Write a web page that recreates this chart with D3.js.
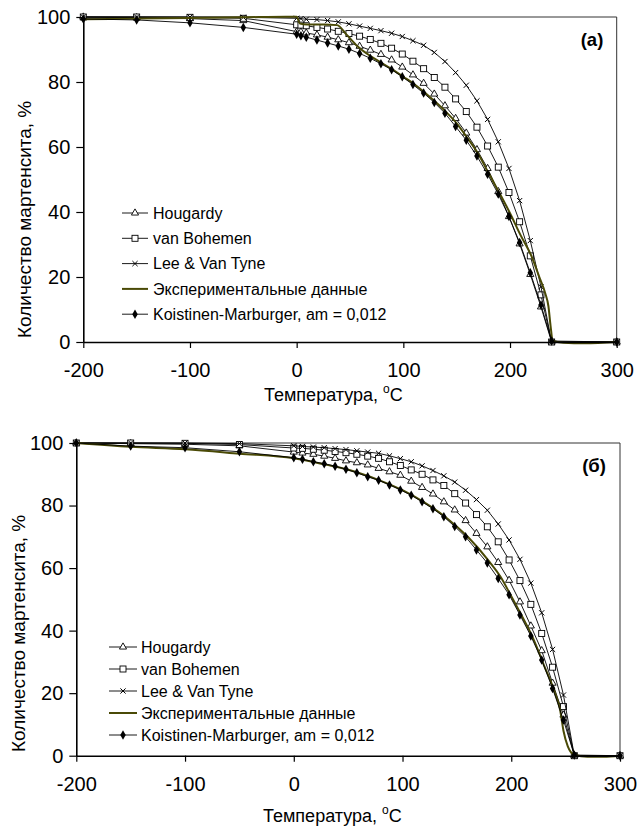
<!DOCTYPE html>
<html>
<head>
<meta charset="utf-8">
<script src="https://cdn.jsdelivr.net/npm/d3@7"></script>
<style>
body { margin: 0; background: #fff; }
text { font-family: "Liberation Sans", Arial, sans-serif; fill: #000; }
</style>
</head>
<body>
<svg id="chart" width="640" height="827"></svg>
<script>
// ---- data ----
var xTicks = [-200, -100, 0, 100, 200, 300];
var yTicks = [0, 20, 40, 60, 80, 100];
var seriesNames = ["Hougardy", "van Bohemen", "Lee & Van Tyne", "Экспериментальные данные", "Koistinen-Marburger, am = 0,012"];

// panel (a)
var tempA = [-200, -150, -100, -50, 0, 4, 9, 19, 29, 39, 49, 59, 69, 79, 89, 99, 109, 119, 129, 139, 149, 159, 169, 179, 189, 199, 209, 219, 229, 239, 300];
var hougardyA = [100, 99.8, 99.5, 98.9, 95.5, 95.4, 95.1, 94.5, 93.8, 93.0, 92.1, 91.0, 89.8, 88.5, 86.8, 84.6, 82.2, 79.6, 76.3, 72.7, 68.8, 64.3, 59.2, 53.4, 46.3, 38.6, 30.2, 20.8, 10.8, 0, 0];
var bohemenA = [100, 100, 99.9, 99.6, 97.6, 97.5, 97.3, 96.8, 96.3, 95.6, 94.9, 94.1, 93.1, 91.9, 90.4, 88.6, 86.4, 84.1, 81.4, 78.4, 74.8, 70.9, 66.1, 60.3, 53.8, 46.0, 37.0, 26.5, 14.5, 0, 0];
var leeA = [100, 100, 100, 99.9, 99.6, 99.5, 99.3, 99.2, 98.9, 98.5, 97.9, 97.2, 96.5, 95.8, 95.0, 94.0, 92.7, 91.3, 89.1, 86.3, 82.9, 79.0, 74.2, 68.5, 61.6, 53.4, 43.5, 31.2, 17.0, 0, 0];
var kmA = [99.4, 99.1, 98.2, 96.8, 94.7, 94.2, 93.8, 92.9, 92.0, 91.1, 90.1, 88.8, 87.3, 85.6, 83.8, 81.6, 79.2, 76.6, 73.7, 70.4, 66.3, 62.1, 57.2, 51.6, 45.5, 38.6, 30.6, 21.3, 11.4, 0.3, 0];
var expTempA = [-200, -150, -100, -50, -10, 0, 3, 10, 25, 38, 47, 57, 70, 78, 88, 100, 110, 120, 130, 140, 150, 160, 170, 180, 190, 200, 210, 220, 228, 233, 236, 238, 240, 250, 270, 300];
var expA = [99.3, 99.5, 99.7, 99.9, 100.1, 100.1, 98.0, 97.7, 97.7, 97.5, 94.5, 91.0, 87.8, 86.2, 84.2, 81.6, 79.4, 76.8, 73.9, 70.8, 67.3, 62.8, 58.0, 51.9, 45.9, 39.6, 32.8, 26.5, 19.5, 15.0, 11.0, 5.0, 0.4, -0.2, -0.4, 0];

// panel (б)
var tempB = [-200, -150, -100, -50, 0, 8, 18, 28, 38, 48, 58, 68, 78, 88, 98, 108, 118, 128, 138, 148, 158, 168, 178, 188, 198, 208, 218, 228, 238, 248, 258, 300];
var hougardyB = [100, 99.8, 99.6, 99.1, 97.1, 96.8, 96.4, 95.8, 95.1, 94.3, 93.7, 93.0, 91.9, 90.8, 89.7, 87.8, 85.8, 83.7, 81.2, 78.6, 75.2, 71.1, 66.8, 61.8, 56.1, 49.2, 41.5, 33.6, 23.2, 13.0, 0, 0];
var bohemenB = [100, 100, 99.9, 99.5, 98.4, 98.3, 98.0, 97.7, 97.3, 96.9, 96.4, 95.8, 95.1, 94.0, 92.8, 91.4, 90.0, 88.2, 86.4, 83.8, 80.8, 77.1, 73.2, 68.4, 62.6, 56.0, 48.4, 39.1, 28.3, 15.7, 0, 0];
var leeB = [100, 100, 100, 99.8, 99.1, 98.9, 98.7, 98.5, 98.2, 97.9, 97.5, 97.1, 96.7, 95.9, 95.0, 94.0, 92.7, 91.2, 89.5, 87.5, 84.9, 81.9, 78.5, 74.1, 69.0, 62.8, 55.2, 45.7, 34.0, 19.4, 0, 0];
var kmB = [100, 99.0, 98.5, 97.2, 95.3, 94.8, 94.0, 93.4, 92.6, 91.6, 90.5, 89.2, 88.1, 86.6, 85.0, 83.3, 81.2, 79.0, 76.4, 73.3, 70.0, 65.8, 61.6, 56.7, 51.5, 45.0, 38.3, 30.6, 21.5, 11.4, 0.2, 0];
var expTempB = [-200, -150, -100, -50, 0, 20, 40, 60, 80, 100, 120, 140, 160, 180, 190, 200, 210, 220, 230, 240, 245, 248, 252, 258, 270, 285, 300];
var expB = [100, 98.8, 98.0, 96.6, 95.1, 93.8, 92.3, 90.4, 87.9, 84.9, 81.0, 76.2, 70.0, 62.0, 57.3, 51.0, 44.5, 37.6, 29.0, 20.3, 14.5, 8.0, 3.0, 0.3, -0.3, -0.3, 0];

var OLIVE = "#4a4a06";
var svg = d3.select("#chart");

function zip (xs, ys) {
    return xs.map(function (t, i) { return [t, ys[i]]; });
}

// draws a marker of given kind centred on (0,0) inside selection g
function drawMarker (g, kind) {
    if (kind == "tri") {
        g.append("path").attr("d", d3.symbol().type(d3.symbolTriangle).size(22)())
            .attr("fill", "#fff").attr("stroke", "#000").attr("stroke-width", 0.9);
    } else if (kind == "sq") {
        g.append("rect").attr("x", -3).attr("y", -3).attr("width", 6).attr("height", 6)
            .attr("fill", "#fff").attr("stroke", "#000").attr("stroke-width", 0.9);
    } else if (kind == "x") {
        g.append("path").attr("d", "M-2.6,-2.6L2.6,2.6M-2.6,2.6L2.6,-2.6")
            .attr("fill", "none").attr("stroke", "#000").attr("stroke-width", 1);
    } else if (kind == "dia") {
        g.append("path").attr("d", d3.symbol().type(d3.symbolDiamond).size(26)())
            .attr("fill", "#000");
    }
}

function drawPanel (opt) {
    var g = svg.append("g");
    var x = d3.scaleLinear().domain([-200, 300]).range([opt.left, opt.right]);
    var y = d3.scaleLinear().domain([0, 100]).range([opt.bottom, opt.top]);

    // plot frame (top / right)
    g.append("path")
        .attr("d", "M" + opt.left + "," + opt.top + "H" + opt.right + "V" + opt.bottom)
        .attr("fill", "none").attr("stroke", "#333").attr("stroke-width", 1);

    var series = [
        { pts: zip(opt.temp, opt.h), mark: "tri" },
        { pts: zip(opt.temp, opt.b), mark: "sq" },
        { pts: zip(opt.temp, opt.l), mark: "x" },
        { pts: zip(opt.expTemp, opt.exp), mark: null },
        { pts: zip(opt.temp, opt.km), mark: "dia" }
    ];

    var line = d3.line().x(function (d) { return x(d[0]); }).y(function (d) { return y(d[1]); });
    var smooth = d3.line().curve(d3.curveMonotoneX)
        .x(function (d) { return x(d[0]); }).y(function (d) { return y(d[1]); });

    series.forEach(function (s) {
        if (s.mark == null) {
            g.append("path").attr("d", smooth(s.pts))
                .attr("fill", "none").attr("stroke", OLIVE).attr("stroke-width", 2);
            return;
        }
        g.append("path").attr("d", line(s.pts))
            .attr("fill", "none").attr("stroke", "#000").attr("stroke-width", 0.9);
        g.selectAll(null).data(s.pts).enter().append("g")
            .attr("transform", function (d) { return "translate(" + x(d[0]) + "," + y(d[1]) + ")"; })
            .each(function () { drawMarker(d3.select(this), s.mark); });
    });

    // axes (plain hyphen for negatives, as in the original)
    var ax = g.append("g").attr("transform", "translate(0," + opt.bottom + ")")
        .call(d3.axisBottom(x).tickValues(xTicks).tickSize(6).tickSizeOuter(0).tickPadding(15)
            .tickFormat(function (d) { return String(d); }));
    var ay = g.append("g").attr("transform", "translate(" + opt.left + ",0)")
        .call(d3.axisLeft(y).tickValues(yTicks).tickSize(7).tickSizeOuter(0).tickPadding(6));
    [ax, ay].forEach(function (a) {
        a.select(".domain").attr("stroke", "#000").attr("stroke-width", 1.6);
        a.selectAll(".tick line").attr("stroke", "#000").attr("stroke-width", 1.2);
        a.selectAll(".tick text").attr("font-size", 20)
            .attr("font-family", "Liberation Sans, Arial, sans-serif").attr("fill", "#000");
    });

    // axis titles (y title starts just above the x axis and runs upward)
    var yt = opt.ytitle;
    g.append("text").attr("transform", "translate(" + yt[0] + "," + yt[1] + ") rotate(-90)")
        .attr("text-anchor", "start").attr("font-size", 19).text("Количество мартенсита, %");
    var xt = g.append("text").attr("x", opt.xtitle[0]).attr("y", opt.xtitle[1])
        .attr("text-anchor", "start").attr("font-size", 18);
    xt.append("tspan").text("Температура, ");
    xt.append("tspan").attr("font-size", 12).attr("dy", -8).text("o");
    xt.append("tspan").attr("dy", 8).text("C");

    // panel label
    g.append("text").attr("x", opt.label[0]).attr("y", opt.label[1])
        .attr("text-anchor", "middle").attr("font-size", 18.5).attr("font-weight", "bold")
        .text(opt.labelText);

    // legend
    var lg = opt.legend;
    var marks = ["tri", "sq", "x", null, "dia"];
    seriesNames.forEach(function (name, i) {
        var yy = lg.y0 + i * lg.step;
        var row = g.append("g");
        row.append("line").attr("x1", lg.x1).attr("x2", lg.x2).attr("y1", yy).attr("y2", yy)
            .attr("stroke", marks[i] == null ? OLIVE : "#000")
            .attr("stroke-width", marks[i] == null ? 2 : 0.9);
        if (marks[i]) {
            var mg = row.append("g").attr("transform", "translate(" + (lg.x1 + lg.x2) / 2 + "," + yy + ")");
            drawMarker(mg, marks[i]);
        }
        row.append("text").attr("x", lg.tx).attr("y", yy).attr("dy", "0.35em")
            .attr("font-size", 16).text(name);
    });
}

drawPanel({
    left: 83.3, right: 616.7, top: 17, bottom: 342,
    temp: tempA, h: hougardyA, b: bohemenA, l: leeA, km: kmA, expTemp: expTempA, exp: expA,
    ytitle: [31, 338], xtitle: [264, 401], label: [592, 46], labelText: "(a)",
    legend: { x1: 122, x2: 148, tx: 153, y0: 213, step: 25.3 }
});

drawPanel({
    left: 76.3, right: 620, top: 443, bottom: 755.7,
    temp: tempB, h: hougardyB, b: bohemenB, l: leeB, km: kmB, expTemp: expTempB, exp: expB,
    ytitle: [25, 752], xtitle: [263, 822], label: [594, 472], labelText: "(б)",
    legend: { x1: 109, x2: 137, tx: 141, y0: 647, step: 22 }
});
</script>
</body>
</html>
